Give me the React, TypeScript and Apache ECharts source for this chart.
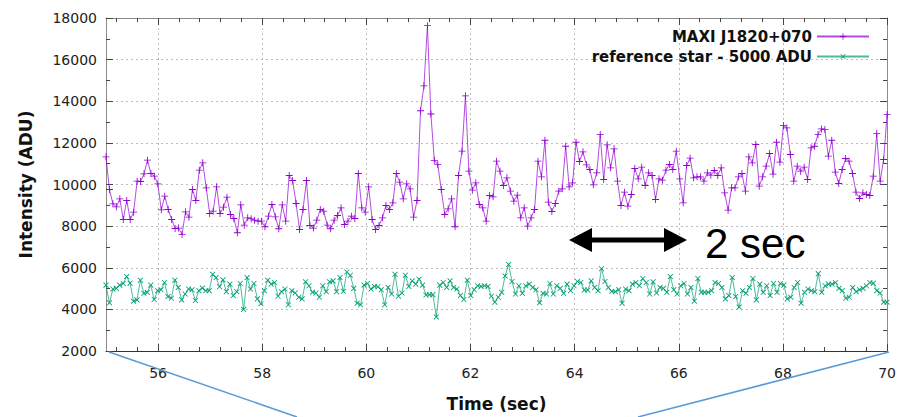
import { useEffect, useRef } from 'react';
import * as echarts from 'echarts';

const TIME_START = 55;
const TIME_END = 70;
const TARGET_NAME = 'MAXI J1820+070';
const REF_NAME = 'reference star - 5000 ADU';

const TARGET_ADU = [
  11328, 9760, 9072, 8928, 9312, 8320, 9232, 8320, 8672, 10160,
  10144, 10512, 11168, 10528, 10400, 10032, 8784, 9440, 8800, 8320,
  7888, 7904, 7600, 8688, 8432, 9760, 9232, 10688, 11040, 9840,
  8608, 8720, 9888, 8608, 8912, 9392, 8560, 8368, 7680, 9024,
  8048, 8400, 8352, 8288, 8240, 8240, 7968, 8480, 9040, 8448,
  7872, 9024, 8240, 10432, 10192, 9088, 7840, 8800, 10192, 8032,
  7904, 8288, 8800, 8720, 8048, 7872, 8288, 8512, 8880, 8080,
  8240, 8480, 8368, 10528, 8880, 8672, 9888, 8320, 7840, 8032,
  8400, 8992, 8800, 9120, 10528, 10112, 9312, 10032, 9792, 8432,
  9232, 13544, 14741, 17630, 13386, 11163, 10957, 9760, 8560, 8832,
  9312, 7968, 10432, 11600, 14262, 10640, 9728, 10080, 9040, 8880,
  8240, 9472, 9408, 11120, 10640, 9952, 10320, 9680, 9200, 9488,
  8400, 8880, 8000, 8400, 8800, 11120, 10368, 12128, 9152, 8704,
  9088, 9680, 9792, 11840, 9888, 10080, 12032, 11104, 11568, 10944,
  10720, 9984, 10560, 12400, 10240, 11904, 10800, 11712, 10160, 8992,
  9632, 8960, 9520, 10768, 10272, 10832, 9952, 10560, 10432, 9280,
  10272, 10208, 10688, 10960, 10720, 11600, 10272, 9120, 10912, 11264,
  10320, 10368, 10368, 10160, 10560, 10448, 10672, 10432, 10800, 9600,
  8768, 9840, 9840, 10368, 10528, 9680, 11328, 11040, 11920, 9920,
  10368, 10880, 11488, 10496, 12032, 11072, 12832, 12720, 11440, 10160,
  10880, 10640, 10832, 10240, 11760, 11840, 12400, 12672, 12640, 11360,
  12128, 10592, 10048, 10720, 11248, 11120, 10528, 9632, 9328, 9600,
  9520, 9472, 10400, 12448, 10160, 11200, 13360,
];

const REF_ADU = [
  5166, 4315, 4977, 5008, 5166, 5244, 5575, 5260, 4394, 4457,
  5402, 4772, 4819, 5166, 4473, 4898, 4945, 5292, 4614, 4536,
  5402, 5055, 4457, 4740, 4977, 4945, 4425, 4898, 5024, 4898,
  4898, 5685, 5528, 5087, 5418, 4851, 5213, 4662, 4851, 5244,
  4000, 5528, 4977, 5244, 4504, 4268, 4898, 5402, 5213, 5292,
  4630, 4851, 4977, 4221, 4898, 4788, 4583, 4504, 5323, 5134,
  4819, 4788, 4583, 5134, 4851, 5323, 5370, 4851, 5528, 4866,
  5796, 5638, 5008, 4299, 4221, 5166, 5244, 4977, 5103, 5087,
  4945, 4221, 5055, 4740, 5685, 4630, 4788, 5638, 5103, 5370,
  5213, 5449, 5166, 4693, 4709, 4709, 3638, 5166, 5292, 5055,
  5370, 5055, 4977, 4662, 4473, 5402, 4662, 4945, 5134, 5103,
  5134, 5103, 4630, 4347,
  4583, 4819, 5607, 6158, 5339, 4740, 5134, 4772, 5134, 5213,
  5055, 4945, 4315, 4772, 4740, 5244, 4740, 5134, 5008, 4772,
  5213, 4898, 5134, 5339, 5292, 4929, 4929, 5370, 5055, 4898,
  5953, 5339, 5055, 4866, 4851, 4945, 4299, 4977, 4898, 5213,
  5292, 5134, 5481, 5292, 4740, 5323, 4788, 5055, 5008, 4819,
  5575, 4945, 4740, 5134, 5244, 4740, 5055, 4394, 5481, 4819,
  4819, 4819, 4898, 5292, 5244, 5055, 4504, 4662, 5528, 4614,
  4110, 4898, 4772, 5055, 5481, 4457, 5213, 4819, 5134, 4662,
  5244, 4819, 5244, 5166, 4504, 4583, 5055, 5292, 4299, 4819,
  4977, 4898, 4851, 5717, 4819, 5134, 5213, 5213, 5292, 5008,
  4898, 4536, 4583, 5055, 4851, 4945, 5008, 5134, 5292, 5260,
  4898, 4788, 4347, 4347,
];

const X_MAJOR_TICKS = [56, 58, 60, 62, 64, 66, 68, 70];
const X_MINOR_STEP = 0.4;
const Y_MIN = 2000;
const Y_MAX = 18000;
const Y_STEP = 2000;

const PURPLE = '#9400d3';
const GREEN = '#009e73';
const PLUS = 'path://M4.4,0H5.6V4.4H10V5.6H5.6V10H4.4V5.6H0V4.4H4.4Z';

function toSeries(values: number[]) {
  const n = values.length;
  const step = (TIME_END - TIME_START) / (n - 1);
  return values.map((v, i) => [+(TIME_START + i * step).toFixed(5), v]);
}

function minorTicks() {
  const out: number[] = [];
  for (let m = 54; m < 70; m += 2) {
    for (let k = 1; k < 5; k++) {
      const v = +(m + k * X_MINOR_STEP).toFixed(2);
      if (v > TIME_START && v < TIME_END) out.push(v);
    }
  }
  return out;
}

export default function App() {
  const ref = useRef<HTMLDivElement>(null);
  useEffect(() => {
    if (!ref.current) return;
    const chart = echarts.init(ref.current, undefined, { renderer: 'svg' });
    const xMinor = minorTicks();
    const font = 'DejaVu Sans';
    const baseX = {
      type: 'value',
      min: TIME_START,
      max: TIME_END,
      splitLine: { show: false },
      axisLabel: { show: false },
    };
    const grayLine = { color: '#8a8a8a', width: 1 };
    const tickLine = { color: '#444', width: 1 };
    chart.setOption({
      animation: false,
      backgroundColor: '#fff',
      grid: { left: 106, right: 10, top: 18, bottom: 65, containLabel: false },
      legend: {
        orient: 'vertical',
        align: 'right',
        right: 29,
        top: 29,
        padding: 0,
        itemWidth: 52,
        itemHeight: 8,
        itemGap: 5,
        textStyle: { fontFamily: font, fontWeight: 'bold', fontSize: 15, color: '#111' },
        data: [TARGET_NAME, REF_NAME],
      },
      xAxis: [
        {
          ...baseX,
          position: 'bottom',
          name: 'Time (sec)',
          nameLocation: 'middle',
          nameGap: 44,
          nameTextStyle: { fontFamily: font, fontWeight: 'bold', fontSize: 17, color: '#111' },
          axisLine: { show: true, lineStyle: { color: '#333', width: 1 } },
          axisTick: { show: true, inside: true, length: 7, customValues: X_MAJOR_TICKS, lineStyle: tickLine },
          axisLabel: { show: true, customValues: X_MAJOR_TICKS, margin: 15, fontFamily: font, fontSize: 14, color: '#222' },
          splitLine: { show: true, lineStyle: { color: '#bdbdbd', type: [2, 3], width: 1 } },
        },
        {
          ...baseX,
          position: 'bottom',
          axisLine: { show: false },
          axisTick: { show: true, inside: true, length: 4, customValues: xMinor, lineStyle: tickLine },
        },
        {
          ...baseX,
          position: 'top',
          axisLine: { show: true, lineStyle: grayLine },
          axisTick: { show: true, inside: true, length: 7, customValues: X_MAJOR_TICKS, lineStyle: tickLine },
        },
        {
          ...baseX,
          position: 'top',
          axisLine: { show: false },
          axisTick: { show: true, inside: true, length: 4, customValues: xMinor, lineStyle: tickLine },
        },
      ],
      yAxis: [
        {
          type: 'value',
          min: Y_MIN,
          max: Y_MAX,
          interval: Y_STEP,
          position: 'left',
          name: 'Intensity (ADU)',
          nameLocation: 'middle',
          nameGap: 72,
          nameTextStyle: { fontFamily: font, fontWeight: 'bold', fontSize: 17, color: '#111' },
          axisLine: { show: true, lineStyle: grayLine },
          axisTick: { show: true, inside: true, length: 7, lineStyle: tickLine },
          minorTick: { show: true, splitNumber: 2, length: 4, lineStyle: tickLine },
          axisLabel: { margin: 9, fontFamily: font, fontSize: 14, color: '#222', formatter: (v: number) => String(v) },
          splitLine: { show: true, lineStyle: { color: '#bdbdbd', type: [2, 3], width: 1 } },
        },
        {
          type: 'value',
          min: Y_MIN,
          max: Y_MAX,
          interval: Y_STEP,
          position: 'right',
          axisLine: { show: true, lineStyle: grayLine },
          axisTick: { show: true, inside: true, length: 7, lineStyle: tickLine },
          minorTick: { show: true, splitNumber: 2, length: 4, lineStyle: tickLine },
          axisLabel: { show: false },
          splitLine: { show: false },
        },
      ],
      series: [
        {
          name: TARGET_NAME,
          type: 'line',
          xAxisIndex: 0,
          yAxisIndex: 0,
          data: toSeries(TARGET_ADU),
          symbol: PLUS,
          symbolSize: 7,
          showAllSymbol: true,
          itemStyle: { color: PURPLE, borderColor: PURPLE, borderWidth: 0, opacity: 1 },
          lineStyle: { color: PURPLE, width: 1, opacity: 0.7 },
          z: 3,
        },
        {
          name: REF_NAME,
          type: 'line',
          xAxisIndex: 0,
          yAxisIndex: 0,
          data: toSeries(REF_ADU),
          symbol: PLUS,
          symbolRotate: 45,
          symbolSize: 7,
          showAllSymbol: true,
          itemStyle: { color: GREEN, borderColor: GREEN, borderWidth: 0, opacity: 1 },
          lineStyle: { color: GREEN, width: 1, opacity: 0.7 },
          z: 3,
        },
      ],
      graphic: [
        { type: 'line', z: 100, shape: { x1: 109, y1: 352, x2: 297, y2: 417 }, style: { stroke: '#5b9bd5', lineWidth: 1.5 } },
        { type: 'line', z: 100, shape: { x1: 889, y1: 352, x2: 638, y2: 417 }, style: { stroke: '#5b9bd5', lineWidth: 1.5 } },
        { type: 'line', z: 100, shape: { x1: 585, y1: 240, x2: 671, y2: 240 }, style: { stroke: '#000', lineWidth: 5 } },
        { type: 'polygon', z: 100, shape: { points: [[569, 240], [592, 228], [592, 252]] }, style: { fill: '#000' } },
        { type: 'polygon', z: 100, shape: { points: [[687, 240], [664, 228], [664, 252]] }, style: { fill: '#000' } },
        {
          type: 'text', z: 100, x: 705, y: 243,
          style: { text: '2 sec', fill: '#000', font: '42px "Liberation Sans", Arial, sans-serif', textVerticalAlign: 'middle', verticalAlign: 'middle' },
        },
      ],
    });
    return () => chart.dispose();
  }, []);
  return <div ref={ref} style={{ position: 'absolute', left: 0, top: 0, width: 899, height: 417 }} />;
}
